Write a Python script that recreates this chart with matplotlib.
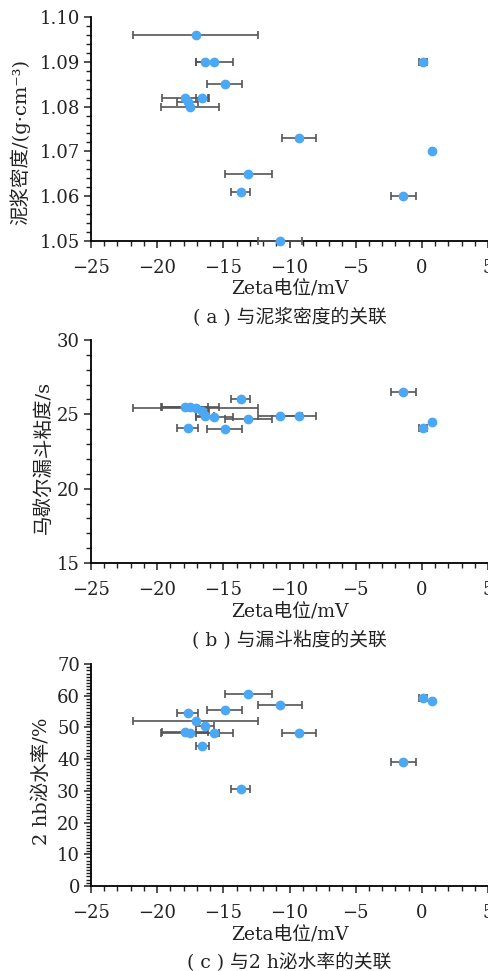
import matplotlib
matplotlib.use("Agg")
import matplotlib.pyplot as plt
from matplotlib.ticker import MultipleLocator, FuncFormatter

# Zeta电位 (mV) 及误差
zeta = [-17.1, -16.4, -15.7, -14.9, -17.9, -16.6, -17.7, -17.5,
        -9.3, 0.8, 0.1, -13.1, -13.7, -1.4, -10.7]
zeta_err = [4.7, 0.7, 1.4, 1.3, 1.75, 0.5, 0.8, 2.2,
            1.3, 0.1, 0.3, 1.75, 0.75, 0.95, 1.65]

# 泥浆密度 g/cm3
density = [1.096, 1.090, 1.090, 1.085, 1.082, 1.082, 1.081, 1.080,
           1.073, 1.070, 1.090, 1.065, 1.061, 1.060, 1.050]
# 马歇尔漏斗粘度 s
viscosity = [25.4, 24.9, 24.8, 24.0, 25.5, 25.2, 24.1, 25.5,
             24.9, 24.5, 24.1, 24.7, 26.0, 26.5, 24.9]
# 2 h泌水率 %
bleeding = [52.0, 50.4, 48.2, 55.5, 48.6, 44.2, 54.4, 48.2,
            48.2, 58.3, 59.4, 60.5, 30.5, 39.0, 57.2]

FONT = ["DejaVu Serif", "Noto Sans CJK SC", "DejaVu Sans"]
plt.rcParams["font.family"] = FONT
plt.rcParams["axes.unicode_minus"] = True

fig = plt.figure(figsize=(4.89, 9.71), dpi=100)
W, H = 489, 971
INK = "#222222"

panels = [
    # y数据, 轴框(top,bottom px), ylim, major, minor, ylabel, caption, 格式, ylabel位置(px)
    (density, (17, 241), (1.05, 1.10), 0.01, 0.002,
     "泥浆密度/(g·cm⁻³)", "( a ) 与泥浆密度的关联", "{:.2f}", (30, 142)),
    (viscosity, (340, 563), (15, 30), 5, 1,
     "马歇尔漏斗粘度/s", "( b ) 与漏斗粘度的关联", "{:.0f}", (53, 457)),
    (bleeding, (664, 886), (0, 70), 10, 1,
     "2 hb泌水率/%", "( c ) 与2 h泌水率的关联", "{:.0f}", (51, 781)),
]

left, right = 91, 488
for ydata, (top, bot), ylim, major, minor, ylabel, caption, fmt, (lx, ly) in panels:
    ax = fig.add_axes([left / W, 1 - bot / H, (right - left) / W, (bot - top) / H])
    ax.errorbar(zeta, ydata, xerr=zeta_err, fmt="o", color="#4aa8f5",
                ecolor="#555555", elinewidth=1.2, capsize=3, capthick=1.2,
                markersize=6, zorder=3, clip_on=False)
    ax.set_xlim(-25, 5)
    ax.set_ylim(*ylim)
    ax.spines["top"].set_visible(False)
    ax.spines["right"].set_visible(False)
    for s in ("left", "bottom"):
        ax.spines[s].set_linewidth(1.3)
    ax.xaxis.set_major_locator(MultipleLocator(5))
    ax.xaxis.set_minor_locator(MultipleLocator(1))
    ax.yaxis.set_major_locator(MultipleLocator(major))
    ax.yaxis.set_minor_locator(MultipleLocator(minor))
    ax.yaxis.set_major_formatter(FuncFormatter(lambda v, p, f=fmt: f.format(v)))
    ax.xaxis.set_major_formatter(FuncFormatter(
        lambda v, p: ("\u2212" if v < 0 else "") + "{:.0f}".format(abs(v))))
    ax.tick_params(which="major", direction="out", length=5, width=1.1,
                   labelsize=13, colors=INK, pad=3)
    ax.tick_params(axis="x", which="major", pad=8)
    ax.tick_params(which="minor", direction="out", length=3.5, width=1.0,
                   colors=INK)
    ax.set_ylabel(ylabel, fontsize=14, color=INK)
    ax.yaxis.set_label_coords((lx - left) / (right - left), (bot - ly) / (bot - top))
    ax.text(0.5, -49 / (bot - top), "Zeta电位/mV",
            transform=ax.transAxes, ha="center", va="center",
            fontsize=13.5, color=INK)
    ax.text(0.5, -77 / (bot - top), caption,
            transform=ax.transAxes, ha="center", va="center",
            fontsize=13.5, color=INK)

fig.savefig("out.png", dpi=100)
